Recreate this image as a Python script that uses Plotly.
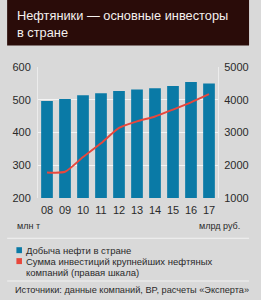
import plotly.graph_objects as go

years = ["08", "09", "10", "11", "12", "13", "14", "15", "16", "17"]
oil_production = [496, 502, 514, 520, 527, 531, 535, 542, 554, 550]
investments = [1780, 1800, 2250, 2670, 3140, 3340, 3490, 3700, 3920, 4170]
left_ticks = [200, 300, 400, 500, 600]
right_ticks = [1000, 2000, 3000, 4000, 5000]

W, H = 261, 300
L, R = 33.3, 227.5
T, B = 66.7, 198.5
FONT = "Liberation Sans"
BLUE = "#0a7aa6"
RED = "#e8473c"
BG = "#d9d9d9"
DARK = "#2a2a2a"


def px(x):
    return (x - L) / (R - L)


def py(y):
    return (B - y) / (B - T)


fig = go.Figure()
fig.add_trace(go.Bar(x=years, y=oil_production, marker=dict(color=BLUE, line=dict(width=0)),
                     yaxis="y", showlegend=False))
fig.add_trace(go.Scatter(x=years, y=investments, mode="lines", yaxis="y2",
                         line=dict(color=RED, width=2, shape="spline", smoothing=0.6),
                         showlegend=False))

shapes = [
    dict(type="rect", xref="paper", yref="paper", x0=px(0), x1=px(W), y0=py(45), y1=py(-2),
         fillcolor="#2a0c09", line=dict(width=0), layer="below"),
    dict(type="line", xref="paper", yref="paper", x0=px(0), x1=px(W), y0=py(239), y1=py(239),
         line=dict(color="#f2f2f2", width=1.2)),
    dict(type="line", xref="paper", yref="paper", x0=px(0), x1=px(W), y0=py(282), y1=py(282),
         line=dict(color="#f2f2f2", width=1.2)),
    dict(type="rect", xref="paper", yref="paper", x0=px(10), x1=px(16), y0=py(254), y1=py(248),
         fillcolor=BLUE, line=dict(width=0)),
    dict(type="rect", xref="paper", yref="paper", x0=px(10), x1=px(16), y0=py(265), y1=py(259),
         fillcolor=RED, line=dict(width=0)),
]

ann = []


def text(x, y, s, size, color=DARK, anchor="left"):
    ann.append(dict(x=px(x), y=py(y), xref="paper", yref="paper", text=s, showarrow=False,
                    xanchor=anchor, yanchor="middle", font=dict(family=FONT, size=size, color=color)))


text(8, 15, "Нефтяники — основные инвесторы", 12.8, "#f4f0ee")
text(8, 32, "в стране", 12.8, "#f4f0ee")
text(8, 227, "млн т", 9)
text(253, 227, "млрд руб.", 9, anchor="right")
text(18, 251, "Добыча нефти в стране", 9.5)
text(18, 262, "Сумма инвестиций крупнейших нефтяных", 9.5)
text(18, 273, "компаний (правая шкала)", 9.5)
text(6, 291, "Источники: данные компаний, BP, расчеты «Эксперта»", 9.2)

fig.update_layout(
    width=W, height=H,
    margin=dict(l=L, r=W - R, t=T, b=H - B, pad=0),
    paper_bgcolor=BG, plot_bgcolor=BG,
    bargap=0.35,
    shapes=shapes, annotations=ann,
    font=dict(family=FONT, size=11, color=DARK),
    xaxis=dict(type="category", showgrid=False, ticks="", showline=False, zeroline=False,
               tickfont=dict(size=11), ticklabelstandoff=4),
    yaxis=dict(range=[200, 600], tickvals=left_ticks, showgrid=True, gridcolor="#f4f4f4",
               gridwidth=1, zeroline=False, showline=True, linecolor="#ececec", linewidth=1,
               ticks="", tickfont=dict(size=11), ticklabelstandoff=4),
    yaxis2=dict(range=[1000, 5000], tickvals=right_ticks, overlaying="y", side="right",
                showgrid=False, zeroline=False, showline=True, linecolor="#ececec", linewidth=1,
                ticks="", tickfont=dict(size=11), ticklabelstandoff=3),
)

fig.write_html("out.html")
